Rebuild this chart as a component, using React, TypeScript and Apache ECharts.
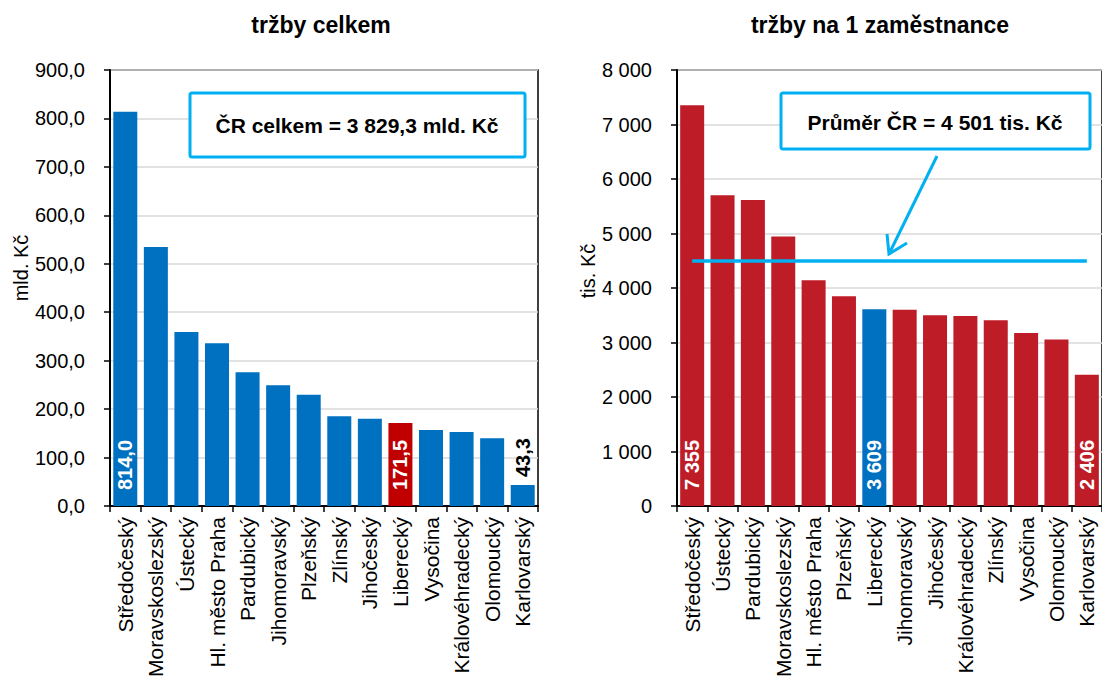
import React, { useEffect, useRef } from "react";
import * as echarts from "echarts";

// ---------- data ----------
const categoriesTotal = [
  "Středočeský", "Moravskoslezský", "Ústecký", "Hl. město Praha", "Pardubický",
  "Jihomoravský", "Plzeňský", "Zlínský", "Jihočeský", "Liberecký",
  "Vysočina", "Královéhradecký", "Olomoucký", "Karlovarský",
];
const salesTotal = [814.0, 534.5, 359.0, 336.0, 276.0, 249.5, 229.5, 185.5, 180.0, 171.5, 157.0, 153.0, 140.0, 43.3];

const categoriesPerEmployee = [
  "Středočeský", "Ústecký", "Pardubický", "Moravskoslezský", "Hl. město Praha",
  "Plzeňský", "Liberecký", "Jihomoravský", "Jihočeský", "Královéhradecký",
  "Zlínský", "Vysočina", "Olomoucký", "Karlovarský",
];
const salesPerEmployee = [7355, 5700, 5613, 4947, 4140, 3847, 3609, 3603, 3499, 3487, 3408, 3176, 3054, 2406];

const czTotal = 3829.3;
const czAverage = 4501;
const highlighted = "Liberecký";
const labelledCategories = ["Středočeský", "Liberecký", "Karlovarský"];
const outsideLabelCategories = ["Karlovarský"]; // only in the left chart (bar too short)

const leftAxis = { min: 0, max: 900, interval: 100 };
const rightAxis = { min: 0, max: 8000, interval: 1000 };

const titles = ["tržby celkem", "tržby na 1 zaměstnance"];
const axisNames = ["mld. Kč", "tis. Kč"];

// ---------- helpers ----------
const FONT = "'Liberation Sans', Arial, sans-serif";
const BLUE = "#0070C0";
const RED_LEFT = "#C00000";
const RED_RIGHT = "#BE1C27";
const CYAN = "#00B0F0";

const thousands = (s: string) => s.replace(/\B(?=(\d{3})+(?!\d))/g, " ");
const fmtDec = (v: number) => {
  const [i, d] = v.toFixed(1).split(".");
  return thousands(i) + "," + d;
};
const fmtInt = (v: number) => thousands(String(Math.round(v)));

const rotatedLabel = (inside: boolean, fmt: (v: number) => string) => ({
  show: true,
  position: inside ? "insideBottom" : "top",
  rotate: 90,
  align: "left",
  verticalAlign: "middle",
  distance: inside ? 16 : 8,
  color: inside ? "#fff" : "#000",
  fontWeight: "bold",
  fontSize: 20,
  fontFamily: FONT,
  formatter: (p: any) => fmt(p.value),
});

export default function App() {
  const ref = useRef<HTMLDivElement>(null);

  useEffect(() => {
    document.body.style.margin = "0";
    if (!ref.current) return;
    const chart = echarts.init(ref.current, null, { renderer: "svg" });

    const leftData = salesTotal.map((v, i) => {
      const c = categoriesTotal[i];
      return {
        value: v,
        itemStyle: { color: c === highlighted ? RED_LEFT : BLUE },
        label: labelledCategories.includes(c)
          ? rotatedLabel(!outsideLabelCategories.includes(c), fmtDec)
          : { show: false },
      };
    });
    const rightData = salesPerEmployee.map((v, i) => {
      const c = categoriesPerEmployee[i];
      return {
        value: v,
        itemStyle: { color: c === highlighted ? BLUE : RED_RIGHT },
        label: labelledCategories.includes(c) ? rotatedLabel(true, fmtInt) : { show: false },
      };
    });

    const xAxisCommon = {
      type: "category",
      axisLine: { lineStyle: { color: "#000", width: 2 } },
      axisTick: { show: true, length: 6, lineStyle: { color: "#000", width: 1.5 } },
      axisLabel: {
        rotate: 90,
        interval: 0,
        fontSize: 21,
        color: "#000",
        fontFamily: FONT,
        margin: 11,
      },
    };
    const yAxisCommon = {
      type: "value",
      axisLine: { show: true, lineStyle: { color: "#000", width: 2 } },
      axisTick: { show: true, length: 6, lineStyle: { color: "#000", width: 1.5 } },
      splitLine: { lineStyle: { color: "#D9D9D9", width: 1.5 } },
      axisLabel: { fontSize: 20, color: "#000", fontFamily: FONT, margin: 25 },
    };

    chart.setOption({
      animation: false,
      backgroundColor: "#fff",
      grid: [
        { left: 110, top: 70, width: 428, height: 436, show: true, borderColor: "#000", borderWidth: 1.5, backgroundColor: "transparent" },
        { left: 677, top: 70, width: 429, height: 436, show: true, borderColor: "#000", borderWidth: 1.5, backgroundColor: "transparent" },
      ],
      xAxis: [
        { ...xAxisCommon, gridIndex: 0, data: categoriesTotal },
        { ...xAxisCommon, gridIndex: 1, data: categoriesPerEmployee },
      ],
      yAxis: [
        { ...yAxisCommon, gridIndex: 0, ...leftAxis, axisLabel: { ...yAxisCommon.axisLabel, formatter: (v: number) => fmtDec(v) } },
        { ...yAxisCommon, gridIndex: 1, ...rightAxis, axisLabel: { ...yAxisCommon.axisLabel, formatter: (v: number) => fmtInt(v) } },
      ],
      series: [
        {
          type: "bar",
          xAxisIndex: 0,
          yAxisIndex: 0,
          barWidth: 24,
          data: leftData,
        },
        {
          type: "bar",
          xAxisIndex: 1,
          yAxisIndex: 1,
          barWidth: 24,
          data: rightData,
          markLine: {
            silent: true,
            symbol: ["none", "none"],
            label: { show: false },
            lineStyle: { color: CYAN, width: 3.5, type: "solid" },
            data: [
              [
                { coord: [categoriesPerEmployee[0], czAverage] },
                { coord: [categoriesPerEmployee[categoriesPerEmployee.length - 1], czAverage] },
              ],
            ],
          },
        },
      ],
      graphic: [
        {
          type: "text", x: 321, y: 25,
          style: { text: titles[0], font: `bold 23px ${FONT}`, fill: "#000", textAlign: "center", textVerticalAlign: "middle" },
        },
        {
          type: "text", x: 880, y: 25,
          style: { text: titles[1], font: `bold 23px ${FONT}`, fill: "#000", textAlign: "center", textVerticalAlign: "middle" },
        },
        {
          type: "text", x: 21, y: 268, rotation: Math.PI / 2,
          style: { text: axisNames[0], font: `20px ${FONT}`, fill: "#000", textAlign: "center", textVerticalAlign: "middle" },
        },
        {
          type: "text", x: 588, y: 271, rotation: Math.PI / 2,
          style: { text: axisNames[1], font: `20px ${FONT}`, fill: "#000", textAlign: "center", textVerticalAlign: "middle" },
        },
        {
          type: "rect", z: 10,
          shape: { x: 190, y: 93, width: 335, height: 64, r: 2 },
          style: { fill: "#fff", stroke: CYAN, lineWidth: 3 },
        },
        {
          type: "text", z: 11, x: 357, y: 125,
          style: { text: `ČR celkem = ${fmtDec(czTotal)} mld. Kč`, font: `bold 21px ${FONT}`, fill: "#000", textAlign: "center", textVerticalAlign: "middle" },
        },
        {
          type: "rect", z: 10,
          shape: { x: 781, y: 93, width: 309, height: 56, r: 2 },
          style: { fill: "#fff", stroke: CYAN, lineWidth: 3 },
        },
        {
          type: "text", z: 11, x: 935, y: 122,
          style: { text: `Průměr ČR = ${fmtInt(czAverage)} tis. Kč`, font: `bold 21px ${FONT}`, fill: "#000", textAlign: "center", textVerticalAlign: "middle" },
        },
        {
          type: "polyline", z: 10,
          shape: { points: [[937, 156], [889, 254]] },
          style: { stroke: CYAN, lineWidth: 3, fill: "none" },
        },
        {
          type: "polyline", z: 10,
          shape: { points: [[887, 234], [889, 254], [907, 243]] },
          style: { stroke: CYAN, lineWidth: 3, fill: "none", lineJoin: "miter" },
        },
      ],
    });

    return () => chart.dispose();
  }, []);

  return <div ref={ref} style={{ width: 1102, height: 680 }} />;
}
